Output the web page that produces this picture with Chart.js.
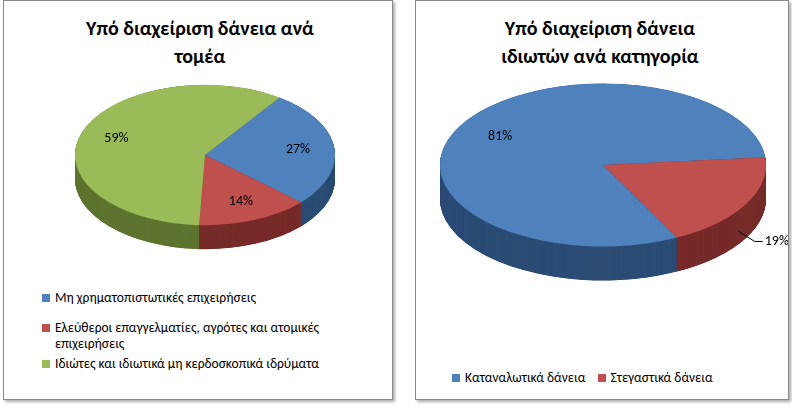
<!DOCTYPE html>
<html><head><meta charset="utf-8">
<script src="https://cdn.jsdelivr.net/npm/chart.js@4"></script>
<style>
body{margin:0;width:792px;height:407px;background:#fff;font-family:Calibri,Carlito,"Liberation Sans",Arial,sans-serif;position:relative;overflow:hidden}
.panel{position:absolute;border:1px solid #888;background:#fff;box-shadow:2px 2px 3px #aaa}
.title{position:absolute;text-align:center;font-weight:bold;font-size:20px;line-height:28px;color:#000}
.cv{position:absolute}
.leg{position:absolute;font-size:13.5px;color:#000;line-height:16px}
.sq{display:inline-block;width:8px;height:8px;margin-right:5px}
</style></head><body>
<div class="panel" style="left:3px;top:0;width:388px;height:398px"></div>
<div class="panel" style="left:415px;top:0;width:372px;height:398px"></div>
<div class="title" style="left:40px;top:14px;width:320px">Υπό διαχείριση δάνεια ανά<br>τομέα</div>
<div class="title" style="left:430px;top:14px;width:340px">Υπό διαχείριση δάνεια<br>ιδιωτών ανά κατηγορία</div>
<div class="cv" style="left:75px;top:25px;width:260px;height:260px"><canvas id="c1"></canvas></div>
<div class="cv" style="left:418px;top:2px;width:370px;height:326px"><canvas id="c2"></canvas></div>
<div class="leg" style="left:42px;top:290px;width:340px">
<div><span class="sq" style="background:#4F81BD"></span>Μη χρηματοπιστωτικές επιχειρήσεις</div>
<div style="margin-top:14px;padding-left:13px;text-indent:-13px"><span class="sq" style="background:#C0504D"></span>Ελεύθεροι επαγγελματίες, αγρότες και ατομικές επιχειρήσεις</div>
<div style="margin-top:4px"><span class="sq" style="background:#9BBB59"></span>Ιδιώτες και ιδιωτικά μη κερδοσκοπικά ιδρύματα</div>
</div>
<div class="leg" style="left:452px;top:370px;width:330px">
<span class="sq" style="background:#4F81BD"></span>Καταναλωτικά δάνεια &nbsp;&nbsp;&nbsp;<span class="sq" style="background:#C0504D"></span>Στεγαστικά δάνεια
</div>
<script>
const sectorLabels=["Μη χρηματοπιστωτικές επιχειρήσεις","Ελεύθεροι επαγγελματίες, αγρότες και ατομικές επιχειρήσεις","Ιδιώτες και ιδιωτικά μη κερδοσκοπικά ιδρύματα"];
const sectorValues=[27,14,59];
const categoryLabels=["Καταναλωτικά δάνεια","Στεγαστικά δάνεια"];
const categoryValues=[81,19];
const colors=["#4F81BD","#C0504D","#9BBB59"];
const darks=["#2C4D75","#772C2A","#5F7530"];

function mk(id,labels,values,rot,scale,depth,outside){
  const sq={id:'sq',
    beforeDatasetsDraw(ch){const ctx=ch.ctx;const a=ch.getDatasetMeta(0).data;const cx=a[0].x,cy=a[0].y;
      ctx.save();ctx.translate(cx,cy);ctx.scale(1,scale);ctx.translate(-cx,-cy);
      for(let d=depth/scale;d>0;d-=0.5){a.forEach((e,i)=>{ctx.beginPath();ctx.moveTo(e.x,e.y+d);ctx.arc(e.x,e.y+d,e.outerRadius,e.startAngle,e.endAngle);ctx.closePath();ctx.fillStyle=darks[i];ctx.fill();});}
    },
    afterDatasetsDraw(ch){const ctx=ch.ctx;ctx.restore();
      const a=ch.getDatasetMeta(0).data;ctx.save();ctx.font='14px Calibri,Carlito,"Liberation Sans",sans-serif';ctx.fillStyle='#000';ctx.textAlign='center';ctx.textBaseline='middle';
      a.forEach((e,i)=>{const m=(e.startAngle+e.endAngle)/2;const r=e.outerRadius;
        if(outside&&i===outside.i){const px=e.x+Math.cos(m)*r*0.95,py=e.y+Math.sin(m)*r*scale+depth*0.8;
          ctx.strokeStyle='#000';ctx.beginPath();ctx.moveTo(px,py);ctx.lineTo(px+outside.dx-14,py+outside.dy);ctx.lineTo(px+outside.dx-6,py+outside.dy);ctx.stroke();
          ctx.textAlign='left';ctx.fillText(values[i]+'%',px+outside.dx-4,py+outside.dy);ctx.textAlign='center';}
        else{const f=0.72;ctx.fillText(values[i]+'%',e.x+Math.cos(m)*r*f,e.y+Math.sin(m)*r*f*scale);}
      });ctx.restore();}};
  new Chart(document.getElementById(id),{type:'pie',data:{labels,datasets:[{data:values,backgroundColor:colors.slice(0,values.length),borderWidth:0}]},
    options:{responsive:true,maintainAspectRatio:false,animation:false,rotation:rot,layout:{padding:0},plugins:{legend:{display:false},tooltip:{enabled:false}}},plugins:[sq]});
}
mk('c1',sectorLabels,sectorValues,35,0.54,24,null);
mk('c2',categoryLabels,categoryValues,153,0.5,34,{i:1,dx:30,dy:10});
</script></body></html>
